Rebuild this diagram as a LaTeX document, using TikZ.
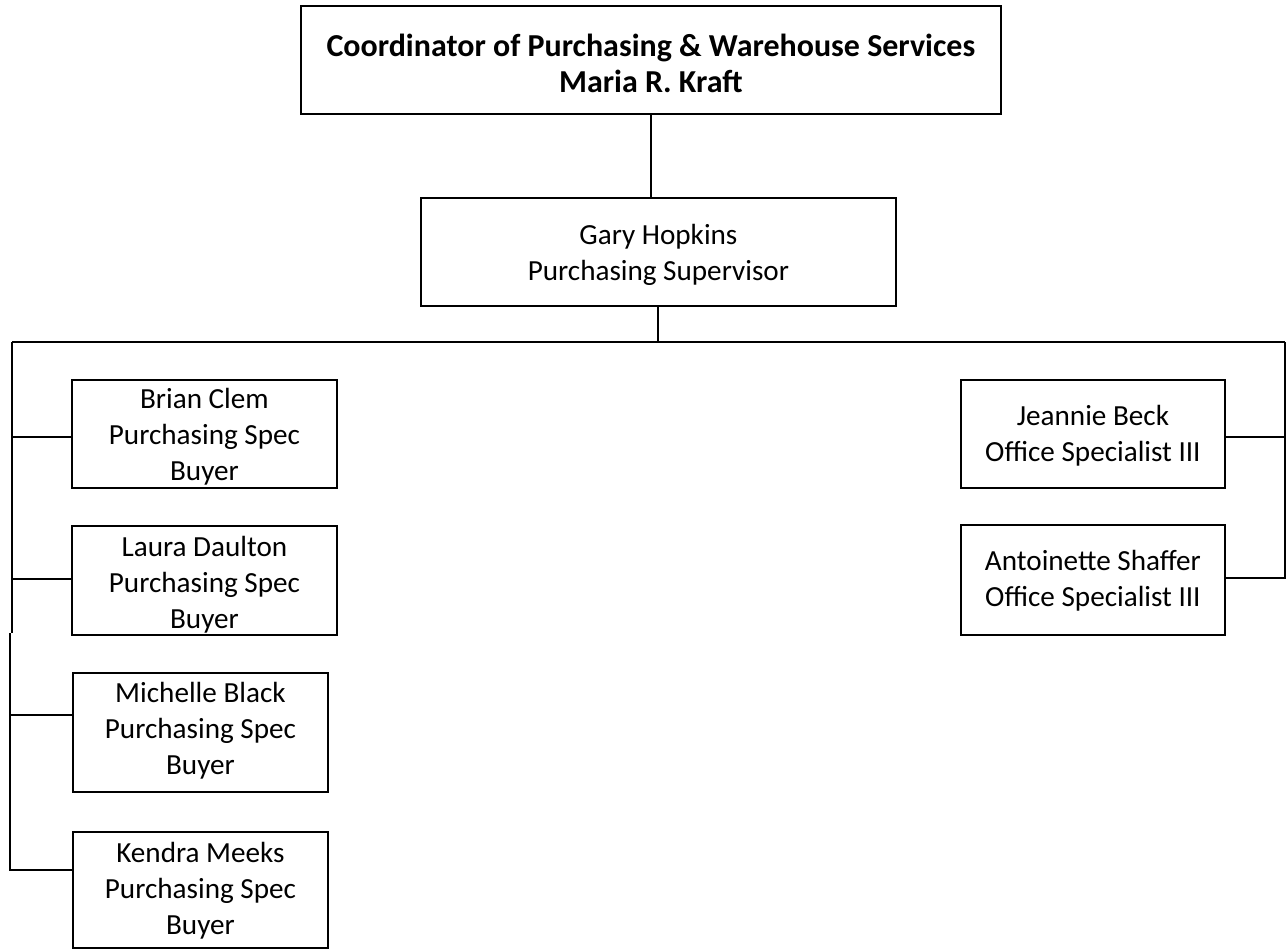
\documentclass[tikz,border=0pt]{standalone}
\usepackage{fontspec}
\setmainfont{Carlito}
\usepackage{tikz}

\tikzset{
  post/.style={draw, line width=1.1pt, anchor=north west, inner sep=0pt,
    align=center, font=\fontsize{16.6}{20.5}\selectfont},
  boss/.style={post, font=\fontsize{18.2}{20.5}\selectfont\bfseries},
  wire/.style={line width=1.1pt}
}

\begin{document}
\begin{tikzpicture}[x=0.02cm,y=-0.02cm]
        \useasboundingbox (0,0) rectangle (1286,949);
        % top of the chart
        \node[boss, minimum width=14cm, text height=1.74cm, text depth=0.42cm] (coord) at (300,5)
          {Coordinator of Purchasing \& Warehouse Services\\Maria R. Kraft};
        \node[post, minimum width=9.5cm, text height=1.66cm, text depth=0.5cm] (gary) at (420,197)
          {Gary Hopkins\\Purchasing Supervisor};
        % buyers on the left
        \node[post, minimum width=5.3cm, text height=2.02cm, text depth=0.14cm] (brian) at (71,379)
          {Brian Clem\\Purchasing Spec\\Buyer};
        \node[post, minimum width=5.3cm, text height=2.06cm, text depth=0.12cm] (laura) at (71,525)
          {Laura Daulton\\Purchasing Spec\\Buyer};
        \node[post, minimum width=5.1cm, text height=2.04cm, text depth=0.34cm] (michelle) at (72,672)
          {Michelle Black\\Purchasing Spec\\Buyer};
        \node[post, minimum width=5.1cm, text height=2.06cm, text depth=0.26cm] (kendra) at (72,831)
          {Kendra Meeks\\Purchasing Spec\\Buyer};
        % office staff on the right
        \node[post, minimum width=5.28cm, text height=1.64cm, text depth=0.52cm] (jeannie) at (960,379)
          {Jeannie Beck\\Office Specialist III};
        \node[post, minimum width=5.28cm, text height=1.64cm, text depth=0.56cm] (antoinette) at (960,524)
          {Antoinette Shaffer\\Office Specialist III};
        % bus and trunks
        \coordinate (busL) at (12,342);
        \coordinate (busR) at (1285,342);
        \coordinate (trunkL) at (12,633);
        \coordinate (lowL) at (10,633);
        \draw[wire] (coord.south) -- (coord.south |- gary.north);
        \draw[wire] (gary.south) -- (gary.south |- busL);
        \draw[wire] (busL) -- (busR);
        \draw[wire] (busL) -- (trunkL);
        \draw[wire] ([yshift=-1.16cm]brian.north west) -- ([yshift=-1.16cm]brian.north west -| busL);
        \draw[wire] ([yshift=-1.08cm]laura.north west) -- ([yshift=-1.08cm]laura.north west -| busL);
        \draw[wire] ([yshift=-0.86cm]michelle.north west) -- ([yshift=-0.86cm]michelle.north west -| lowL);
        \draw[wire] ([yshift=-0.78cm]kendra.north west) -- ([yshift=-0.78cm]kendra.north west -| lowL)
          -- (lowL);
        \draw[wire] (busR) -- ([yshift=-1.08cm]antoinette.north east -| busR) -- ([yshift=-1.08cm]antoinette.north east);
        \draw[wire] ([yshift=-1.16cm]jeannie.north east) -- ([yshift=-1.16cm]jeannie.north east -| busR);
\end{tikzpicture}
\end{document}
